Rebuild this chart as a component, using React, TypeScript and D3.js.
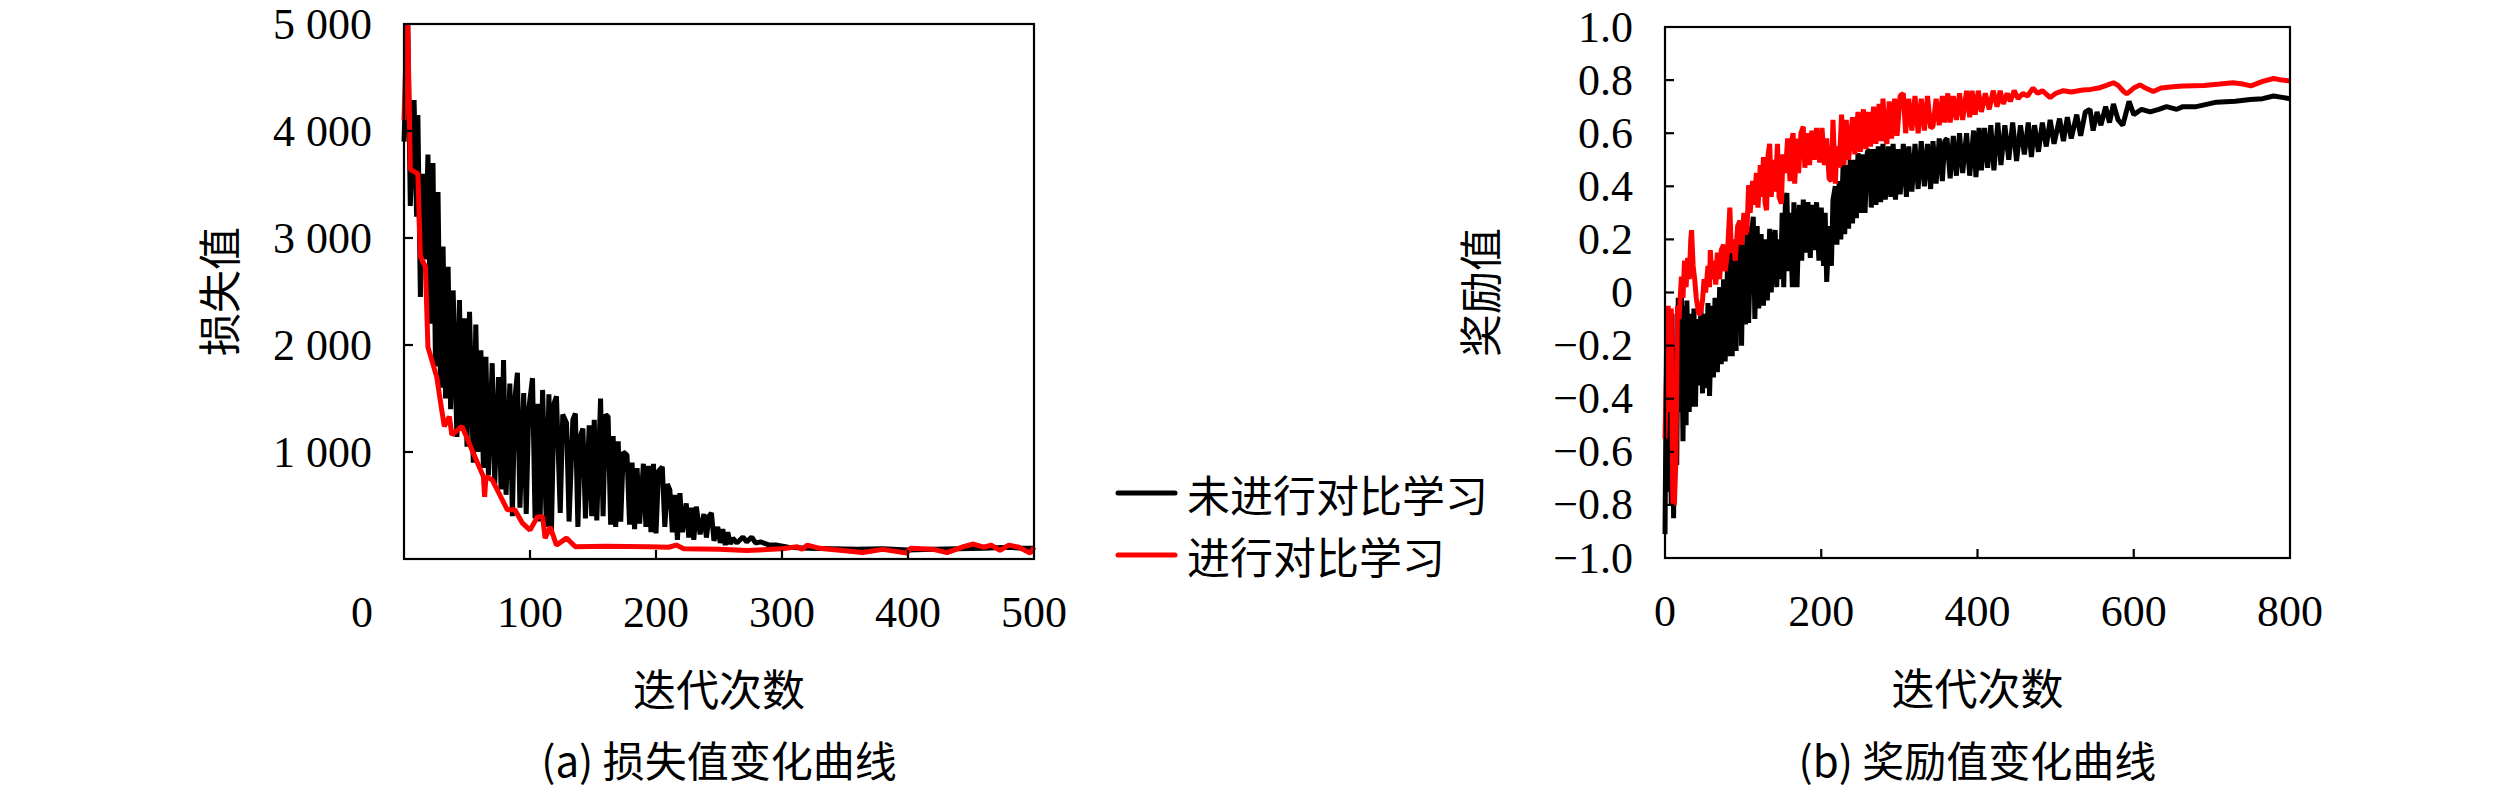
import * as d3 from "d3";

const SERIES = ["未进行对比学习", "进行对比学习"];
const COLORS = ["#000000", "#ff0000"];

// loss curves: [iteration, loss]
const lossPlain: [number, number][] = [
  [0, 3900], [3, 5000], [5, 3300], [8, 4290], [10, 3200], [11, 4150], [13, 2450], [15, 3600],
  [17, 2800], [19, 3780], [21, 2200], [23, 3700], [25, 1800], [27, 3430], [29, 1600], [31, 2920],
  [33, 1500], [35, 2730], [37, 1400], [39, 2510], [42, 1140], [44, 2420], [46, 1200], [48, 2250],
  [50, 1050], [52, 2310], [55, 900], [57, 2190], [59, 1000], [61, 1950], [63, 850], [65, 1890],
  [67, 780], [70, 1830], [72, 700], [75, 1700], [77, 650], [79, 1860], [81, 600], [84, 1640],
  [86, 400], [88, 1500], [90, 1740], [92, 480], [95, 1550], [97, 420], [99, 1400], [102, 1690],
  [104, 380], [106, 1450], [108, 350], [110, 1580], [113, 300], [115, 1540], [117, 240], [119, 1450],
  [121, 1520], [124, 430], [126, 1350], [129, 1270], [131, 350], [134, 1300], [136, 1360], [138, 300],
  [140, 1150], [142, 1220], [144, 380], [147, 1250], [149, 400], [151, 1300], [153, 360], [156, 1500],
  [158, 400], [160, 1350], [162, 1330], [164, 320], [166, 1150], [168, 300], [170, 1100], [172, 350],
  [174, 1000], [177, 970], [179, 320], [181, 900], [183, 280], [185, 850], [187, 330], [190, 890],
  [192, 300], [194, 870], [196, 250], [198, 890], [200, 240], [202, 820], [205, 860], [207, 300],
  [209, 700], [211, 645], [213, 250], [215, 600], [217, 180], [219, 615], [221, 250], [224, 520],
  [226, 200], [228, 480], [230, 180], [232, 490], [235, 230], [238, 420], [240, 200], [242, 400],
  [244, 430], [246, 170], [249, 300], [251, 150], [253, 280], [255, 130], [257, 250], [259, 140],
  [261, 195], [264, 150], [266, 170], [269, 205], [272, 160], [276, 205], [279, 150], [283, 160],
  [290, 130], [296, 130], [305, 110], [320, 100], [340, 95], [360, 90], [380, 95], [400, 85],
  [420, 90], [440, 95], [460, 100], [480, 110], [490, 100], [500, 100],
];

const lossContrast: [number, number][] = [
  [0, 4100], [1, 4500], [3, 5000], [5, 3640], [8, 3620], [11, 3600], [13, 2830], [17, 2730],
  [19, 1980], [26, 1700], [30, 1390], [32, 1240], [36, 1330], [38, 1160], [46, 1240], [55, 990],
  [63, 770], [64, 580], [65, 770], [70, 740], [82, 460], [88, 460], [94, 335], [100, 270],
  [106, 395], [110, 395], [112, 195], [116, 300], [121, 130], [129, 195], [136, 115], [160, 120],
  [195, 115], [210, 110], [216, 130], [222, 95], [250, 90], [272, 80], [300, 95], [312, 115],
  [316, 90], [320, 130], [330, 100], [364, 60], [380, 90], [399, 55], [402, 100], [420, 90],
  [431, 60], [444, 115], [452, 140], [460, 110], [466, 130], [473, 80], [480, 130], [488, 110],
  [497, 55], [500, 110],
];

// reward curves: [iteration, reward]
const rewardPlain: [number, number][] = [
  [0, -0.91], [2, -0.19], [4, -0.75], [6, -0.3], [8, -0.8], [9, -0.08], [11, -0.85], [13, -0.2],
  [15, -0.65], [17, -0.02], [19, -0.45], [21, -0.01], [23, -0.56], [25, -0.05], [27, -0.5], [28, -0.03],
  [31, -0.45], [33, -0.08], [35, -0.43], [37, -0.06], [39, -0.43], [41, -0.1], [43, -0.35], [46, -0.05],
  [48, -0.38], [50, -0.08], [53, -0.36], [55, -0.04], [57, -0.39], [60, -0.05], [62, -0.32], [64, -0.02],
  [67, -0.3], [70, 0.02], [72, -0.27], [75, 0.05], [77, -0.26], [80, 0.1], [82, -0.24], [83, 0.22],
  [86, -0.24], [89, 0.15], [91, -0.22], [93, 0.2], [96, 0.27], [98, -0.2], [100, 0.18], [103, -0.12],
  [105, 0.25], [107, -0.115], [110, 0.2], [113, 0.285], [115, -0.1], [118, 0.25], [120, -0.06], [123, 0.22],
  [126, -0.05], [129, 0.2], [131, -0.03], [134, 0.24], [136, 0.0], [138, 0.18], [141, 0.235], [143, 0.02],
  [145, 0.2], [148, 0.05], [150, 0.3], [152, 0.02], [154, 0.33], [156, 0.375], [158, 0.08], [160, 0.3],
  [163, 0.02], [165, 0.34], [168, 0.1], [169, 0.02], [172, 0.33], [175, 0.12], [177, 0.35], [180, 0.15],
  [183, 0.34], [186, 0.13], [188, 0.33], [191, 0.16], [194, 0.34], [197, 0.12], [200, 0.32], [203, 0.1],
  [205, 0.3], [207, 0.04], [210, 0.25], [213, 0.1], [215, 0.35], [218, 0.4], [220, 0.18], [223, 0.42],
  [225, 0.2], [228, 0.485], [230, 0.22], [233, 0.48], [235, 0.24], [237, 0.5], [240, 0.26], [243, 0.5],
  [245, 0.28], [247, 0.525], [250, 0.3], [253, 0.52], [256, 0.3], [259, 0.53], [262, 0.537], [264, 0.32],
  [267, 0.54], [270, 0.33], [273, 0.55], [276, 0.34], [279, 0.56], [282, 0.35], [286, 0.55], [289, 0.36],
  [292, 0.56], [295, 0.35], [298, 0.54], [301, 0.37], [305, 0.56], [309, 0.36], [312, 0.55], [316, 0.38],
  [320, 0.56], [324, 0.39], [328, 0.57], [332, 0.4], [336, 0.56], [340, 0.39], [343, 0.57], [347, 0.41],
  [351, 0.58], [355, 0.42], [358, 0.57], [361, 0.58], [365, 0.43], [369, 0.59], [373, 0.44], [377, 0.6],
  [381, 0.45], [386, 0.6], [390, 0.44], [395, 0.61], [398, 0.435], [402, 0.62], [405, 0.46], [409, 0.62],
  [413, 0.47], [417, 0.63], [421, 0.46], [426, 0.64], [430, 0.48], [435, 0.63], [440, 0.5], [445, 0.64],
  [450, 0.495], [455, 0.63], [460, 0.52], [465, 0.64], [469, 0.51], [473, 0.63], [478, 0.53], [483, 0.64],
  [488, 0.55], [493, 0.65], [498, 0.56], [505, 0.655], [510, 0.57], [515, 0.66], [520, 0.58], [527, 0.67],
  [532, 0.59], [538, 0.68], [544, 0.69], [548, 0.61], [553, 0.68], [558, 0.63], [564, 0.7], [569, 0.64],
  [574, 0.71], [580, 0.65], [586, 0.63], [594, 0.72], [600, 0.67], [610, 0.69], [621, 0.68], [632, 0.69],
  [642, 0.7], [655, 0.69], [663, 0.7], [680, 0.7], [706, 0.717], [730, 0.72], [749, 0.727], [765, 0.73],
  [779, 0.74], [790, 0.735], [800, 0.73],
];

const rewardContrast: [number, number][] = [
  [0, -0.55], [2, -0.3], [4, -0.05], [6, -0.45], [8, -0.06], [10, -0.79], [12, -0.8], [14, -0.63],
  [16, -0.05], [18, -0.1], [21, 0.06], [23, -0.02], [25, 0.12], [27, 0.02], [29, 0.13], [31, 0.05],
  [33, 0.2], [34, 0.235], [36, 0.1], [38, 0.05], [40, -0.02], [43, -0.08], [45, -0.08], [48, -0.03],
  [50, 0.05], [52, 0.0], [55, 0.1], [57, 0.02], [58, 0.16], [60, 0.05], [62, 0.12], [65, 0.03],
  [67, 0.15], [70, 0.05], [72, 0.16], [75, 0.18], [77, 0.08], [80, 0.15], [83, 0.32], [85, 0.15],
  [87, 0.2], [90, 0.12], [93, 0.25], [96, 0.27], [98, 0.18], [101, 0.3], [103, 0.22], [105, 0.235],
  [107, 0.405], [109, 0.3], [112, 0.42], [114, 0.33], [117, 0.45], [119, 0.32], [122, 0.48], [124, 0.36],
  [126, 0.51], [128, 0.34], [130, 0.31], [132, 0.52], [134, 0.56], [136, 0.36], [139, 0.5], [141, 0.38],
  [144, 0.56], [146, 0.36], [149, 0.335], [151, 0.52], [154, 0.45], [157, 0.58], [160, 0.42], [162, 0.57],
  [164, 0.6], [166, 0.41], [169, 0.58], [171, 0.45], [174, 0.6], [177, 0.625], [179, 0.47], [182, 0.6],
  [185, 0.48], [188, 0.61], [191, 0.5], [194, 0.62], [198, 0.49], [201, 0.62], [204, 0.48], [207, 0.58],
  [210, 0.43], [213, 0.42], [215, 0.65], [218, 0.41], [220, 0.55], [223, 0.47], [226, 0.67], [229, 0.48],
  [232, 0.65], [235, 0.5], [240, 0.66], [243, 0.52], [247, 0.68], [250, 0.53], [254, 0.69], [257, 0.54],
  [260, 0.68], [263, 0.55], [267, 0.7], [270, 0.56], [274, 0.71], [277, 0.57], [279, 0.73], [282, 0.58],
  [284, 0.56], [287, 0.72], [290, 0.58], [294, 0.73], [297, 0.59], [301, 0.74], [305, 0.75], [308, 0.6],
  [312, 0.73], [316, 0.61], [320, 0.74], [324, 0.6], [328, 0.73], [332, 0.61], [336, 0.74], [340, 0.62],
  [343, 0.625], [347, 0.73], [351, 0.63], [355, 0.74], [358, 0.64], [362, 0.75], [365, 0.64], [369, 0.74],
  [373, 0.65], [377, 0.75], [381, 0.65], [386, 0.76], [390, 0.66], [393, 0.76], [397, 0.67], [401, 0.76],
  [405, 0.68], [410, 0.75], [415, 0.69], [420, 0.76], [425, 0.7], [429, 0.76], [433, 0.71], [438, 0.75],
  [442, 0.72], [447, 0.76], [452, 0.73], [458, 0.75], [464, 0.74], [471, 0.77], [477, 0.75], [483, 0.76],
  [493, 0.734], [500, 0.75], [510, 0.76], [520, 0.755], [535, 0.763], [545, 0.765], [555, 0.77], [565, 0.78],
  [574, 0.79], [580, 0.78], [586, 0.76], [591, 0.748], [600, 0.77], [608, 0.782], [615, 0.77], [625, 0.757],
  [635, 0.77], [650, 0.775], [663, 0.778], [690, 0.78], [710, 0.785], [727, 0.79], [740, 0.785], [750, 0.778],
  [765, 0.795], [779, 0.806], [790, 0.8], [800, 0.797],
];

const LOSS_X_TICKS = [0, 100, 200, 300, 400, 500];
const LOSS_Y_TICKS = [1000, 2000, 3000, 4000, 5000];
const LOSS_Y_LABELS = ["1 000", "2 000", "3 000", "4 000", "5 000"];
const REWARD_X_TICKS = [0, 200, 400, 600, 800];
const REWARD_Y_TICKS = [-1, -0.8, -0.6, -0.4, -0.2, 0, 0.2, 0.4, 0.6, 0.8, 1];
const REWARD_Y_LABELS = ["−1.0", "−0.8", "−0.6", "−0.4", "−0.2", "0", "0.2", "0.4", "0.6", "0.8", "1.0"];

const NUM_FONT = "'Liberation Serif', 'DejaVu Serif', serif";
const CJK_FONT = "'Noto Sans CJK SC', 'Noto Sans', sans-serif";

interface PanelProps {
  box: { left: number; right: number; top: number; bottom: number };
  xDomain: [number, number];
  yDomain: [number, number];
  xTicks: number[];
  yTicks: number[];
  yLabels: string[];
  data: [number, number][][];
  yTitle: string;
  caption: string;
  zeroShift?: number;
}

function Panel({ box, xDomain, yDomain, xTicks, yTicks, yLabels, data, yTitle, caption, zeroShift = 0 }: PanelProps) {
  const x = d3.scaleLinear().domain(xDomain).range([box.left, box.right]);
  const y = d3.scaleLinear().domain(yDomain).range([box.bottom, box.top]);
  const line = d3.line<[number, number]>().x(d => x(d[0])).y(d => y(d[1]));
  const cx = (box.left + box.right) / 2;
  const cy = (box.top + box.bottom) / 2;
  const tickLen = 9;

  return (
    <g>
      {data.map((s, i) => (
        <path key={i} d={line(s) ?? ""} fill="none" stroke={COLORS[i]} strokeWidth={5}
          strokeLinejoin="bevel" />
      ))}
      <rect x={box.left} y={box.top} width={box.right - box.left} height={box.bottom - box.top}
        fill="none" stroke="#000" strokeWidth={2.2} />
      {xTicks.filter(t => t > xDomain[0] && t < xDomain[1]).map(t => (
        <line key={t} x1={x(t)} x2={x(t)} y1={box.bottom} y2={box.bottom - tickLen} stroke="#000" strokeWidth={2.2} />
      ))}
      {yTicks.filter(t => t > yDomain[0] && t < yDomain[1]).map(t => (
        <line key={t} x1={box.left} x2={box.left + tickLen} y1={y(t)} y2={y(t)} stroke="#000" strokeWidth={2.2} />
      ))}
      {xTicks.map(t => (
        <text key={t} x={x(t) + (t === 0 ? zeroShift : 0)} y={box.bottom + 53} textAnchor="middle"
          dominantBaseline="central" fontFamily={NUM_FONT} fontSize={44}>{t}</text>
      ))}
      {yTicks.map((t, i) => (
        <text key={t} x={box.left - 32} y={y(t)} textAnchor="end" dominantBaseline="central"
          fontFamily={NUM_FONT} fontSize={44}>{yLabels[i]}</text>
      ))}
      <text x={cx} y={box.bottom + 128} textAnchor="middle" dominantBaseline="central"
        fontFamily={CJK_FONT} fontSize={43}>迭代次数</text>
      <text transform={`translate(${box.left - 187},${cy}) rotate(-90)`} textAnchor="middle"
        dominantBaseline="central" fontFamily={CJK_FONT} fontSize={43}>{yTitle}</text>
      <text x={cx} y={777} textAnchor="middle" fontFamily={CJK_FONT} fontSize={42}>{caption}</text>
    </g>
  );
}

export default function App() {
  const legendY = [493, 555];
  return (
    <svg width={2520} height={792} style={{ position: "absolute", left: 0, top: 0, background: "#fff" }}>
      <Panel
        box={{ left: 404, right: 1034, top: 24, bottom: 559 }}
        xDomain={[0, 500]} yDomain={[0, 5000]}
        xTicks={LOSS_X_TICKS} yTicks={LOSS_Y_TICKS} yLabels={LOSS_Y_LABELS}
        data={[lossPlain, lossContrast]}
        yTitle="损失值" caption="(a) 损失值变化曲线" zeroShift={-42}
      />
      <Panel
        box={{ left: 1665, right: 2290, top: 27, bottom: 558 }}
        xDomain={[0, 800]} yDomain={[-1, 1]}
        xTicks={REWARD_X_TICKS} yTicks={REWARD_Y_TICKS} yLabels={REWARD_Y_LABELS}
        data={[rewardPlain, rewardContrast]}
        yTitle="奖励值" caption="(b) 奖励值变化曲线"
      />
      {SERIES.map((name, i) => (
        <g key={name}>
          <line x1={1118} x2={1175} y1={legendY[i]} y2={legendY[i]} stroke={COLORS[i]} strokeWidth={5}
            strokeLinecap="round" />
          <text x={1187} y={legendY[i]} dominantBaseline="central" fontFamily={CJK_FONT} fontSize={43}>{name}</text>
        </g>
      ))}
    </svg>
  );
}
